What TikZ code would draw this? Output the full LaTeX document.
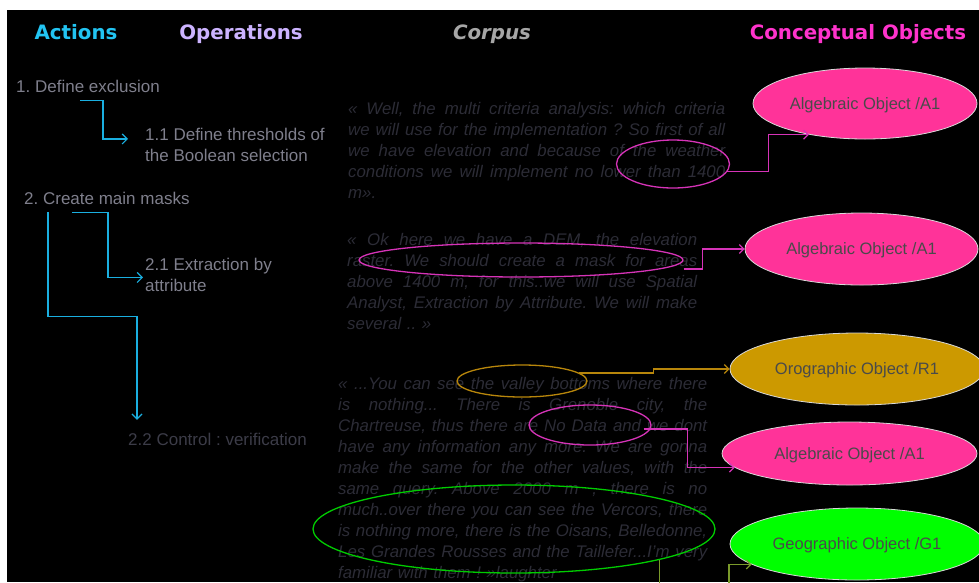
\documentclass[tikz,border=0pt]{standalone}
\usepackage{fontspec}
\usepackage{graphicx}
\setmainfont{Liberation Sans}
\newfontfamily\hdfont{DejaVu Sans}
\usetikzlibrary{shapes.geometric,arrows.meta}
\frenchspacing
\definecolor{actcol}{HTML}{22C4F2}
\definecolor{opcol}{HTML}{CCB3FF}
\definecolor{corpcol}{HTML}{A6A6A6}
\definecolor{concol}{HTML}{FF33CC}
\definecolor{ltgray}{HTML}{7F7F8C}
\definecolor{dkgray}{HTML}{3C3C48}
\definecolor{corptext}{HTML}{2C2C36}
\definecolor{cyanline}{HTML}{1AAFE0}
\definecolor{pinkfill}{HTML}{FF3399}
\definecolor{orangefill}{HTML}{CC9900}
\definecolor{greenfill}{HTML}{00FF00}
\definecolor{objborder}{HTML}{D9D9D9}
\definecolor{objtext}{HTML}{4A4A4A}
\definecolor{hlmag}{HTML}{D633B8}
\definecolor{hlorange}{HTML}{B8860B}
\definecolor{hlgreen}{HTML}{00CC00}
\definecolor{olive}{HTML}{7A9A2A}
\newcommand{\jl}[2]{\sbox0{\frenchspacing\spaceskip=0pt\xspaceskip=0pt #2}\ifdim\wd0>#1\relax\resizebox{#1}{\height}{\frenchspacing\spaceskip=0pt\xspaceskip=0pt #2}\else\makebox[#1][s]{\frenchspacing\spaceskip=0pt\xspaceskip=0pt #2}\fi}
\begin{document}
\begin{tikzpicture}[x=1pt,y=-1pt,
  hd/.style={font=\hdfont\bfseries\fontsize{19.8}{22}\selectfont, anchor=base, inner sep=0},
  lt/.style={font=\frenchspacing\fontsize{17}{21}\selectfont, text=ltgray, inner sep=0},
  corp/.style={font=\frenchspacing\itshape\fontsize{16.8}{21}\selectfont, text=corptext, inner sep=0, anchor=north west, align=left},
  obj/.style={ellipse, draw=objborder, line width=0.8pt, inner sep=0, text=objtext, text depth=0pt, font=\fontsize{16.5}{19}\selectfont},
  hl/.style={ellipse, draw, line width=1.3pt, inner sep=0},
  cyc/.style={draw=cyanline, line width=1.2pt, -{Straight Barb[length=5pt,width=10pt]}},
  conn/.style={line width=1.2pt, -{Straight Barb[length=4.5pt,width=9pt]}}]
\useasboundingbox (0,0) rectangle (979,582);
\fill[white] (0,0) rectangle (979,582);
\fill[black] (7,10) rectangle (979,582);
\begin{scope}
\clip (7,10) rectangle (979,582);
% headers
\node[hd, text=actcol] (hA) at (76,39) {Actions};
\node[hd, text=opcol] (hO) at (241,39) {Operations};
\node[hd, text=corpcol, font=\hdfont\bfseries\itshape\fontsize{19.8}{22}\selectfont] (hC) at (492,39) {Corpus};
\node[hd, text=concol] (hK) at (858,39) {Conceptual Objects};
% left column
\node[lt, anchor=base west, text height=12pt, text depth=4pt] (d1) at (16,92) {1. Define exclusion};
\node[lt, anchor=north west, align=left] (t11) at (145,128) {1.1 Define thresholds of\\the Boolean selection};
\node[lt, anchor=base west, text height=12pt, text depth=4pt] (d2) at (24,204) {2. Create main masks};
\node[lt, anchor=north west, align=left] (t21) at (145,258) {2.1 Extraction by\\attribute};
\node[lt, text=dkgray, anchor=base west, text height=12pt, text depth=4pt] (t22) at (128,445) {2.2 Control : verification};
\draw[cyc] ([xshift=64pt,yshift=-4pt]d1.south west) -- ++(23,0) |- ([xshift=-17pt,yshift=6pt]t11.west);
\draw[cyc] ([xshift=48pt,yshift=-4pt]d2.south west) -- ++(36,0) |- ([xshift=-2pt,yshift=-2.5pt]t21.west);
\draw[cyc] ([xshift=24pt,yshift=-4pt]d2.south west) -- ++(0,104) -| ([xshift=9pt,yshift=13pt]t22.north west);
% corpus
\node[corp, text width=377pt] (c1) at (348,102) {%
\jl{377pt}{« Well, the multi criteria analysis: which criteria}\\
\jl{377pt}{we will use for the implementation ? So first of all}\\
\jl{377pt}{we have elevation and because of the weather}\\
\jl{377pt}{conditions we will implement no lower than 1400}\\
m».};
\node[corp, text width=350pt] (c2) at (347,233) {%
\jl{350pt}{« Ok here we have a DEM, the elevation}\\
\jl{350pt}{raster. We should create a mask for areas}\\
\jl{350pt}{above 1400 m, for this..we will use Spatial}\\
\jl{350pt}{Analyst, Extraction by Attribute. We will make}\\
several .. »};
\node[corp, text width=369pt] (c3) at (338,377) {%
\jl{369pt}{« ...You can see the valley bottoms where there}\\
\jl{369pt}{is nothing... There is Grenoble city, the}\\
\jl{369pt}{Chartreuse, thus there are No Data and we dont}\\
\jl{369pt}{have any information any more. We are gonna}\\
\jl{369pt}{make the same for the other values, with the}\\
\jl{369pt}{same query. Above 2000 m , there is no}\\
\jl{369pt}{much..over there you can see the Vercors, there}\\
\jl{369pt}{is nothing more, there is the Oisans, Belledonne,}\\
\jl{369pt}{Les Grandes Rousses and the Taillefer...I’m very}\\
familiar with them ! »laughter};
% highlight ellipses
\node[hl, draw=hlmag, minimum width=113pt, minimum height=48pt] (h1) at (673,164) {};
\node[hl, draw=hlmag, minimum width=324pt, minimum height=34pt] (h2) at (521,260) {};
\node[hl, draw=hlorange, minimum width=130pt, minimum height=32pt] (h3) at (522,381) {};
\node[hl, draw=hlmag, minimum width=122pt, minimum height=40pt] (h4) at (590,425) {};
\node[hl, draw=hlgreen, minimum width=402pt, minimum height=88pt] (h5) at (514,529) {};
% object ellipses
\node[obj, fill=pinkfill, minimum width=224pt, minimum height=71pt] (a1) at (865,103.5) {Algebraic Object /A1};
\node[obj, fill=pinkfill, minimum width=233pt, minimum height=72pt] (a2) at (861.5,249) {Algebraic Object /A1};
\node[obj, fill=orangefill, minimum width=254pt, minimum height=72pt] (o1) at (857,369) {Orographic Object /R1};
\node[obj, fill=pinkfill, minimum width=255pt, minimum height=63pt] (a3) at (849.5,453.5) {Algebraic Object /A1};
\node[obj, fill=greenfill, minimum width=254pt, minimum height=72pt] (g1) at (857,544) {Geographic Object /G1};
% connectors
\coordinate (gturn) at (729,592);
\draw[conn, draw=hlmag] (h1.-8) -- ++(41,0) |- (a1.209);
\draw[conn, draw=hlmag] ([yshift=-9pt]h2.east) -- ++(19,0) |- (a2.west);
\draw[conn, draw=hlorange] ([xshift=-9pt,yshift=8pt]h3.east) -- ++(75,0) |- (o1.west);
\draw[conn, draw=hlmag] ([xshift=-8pt,yshift=-4pt]h4.east) -- ++(44,0) |- (a3.187);
\draw[conn, draw=olive] (h5.-12) |- (gturn) |- (g1.191);
\end{scope}
\end{tikzpicture}
\end{document}
